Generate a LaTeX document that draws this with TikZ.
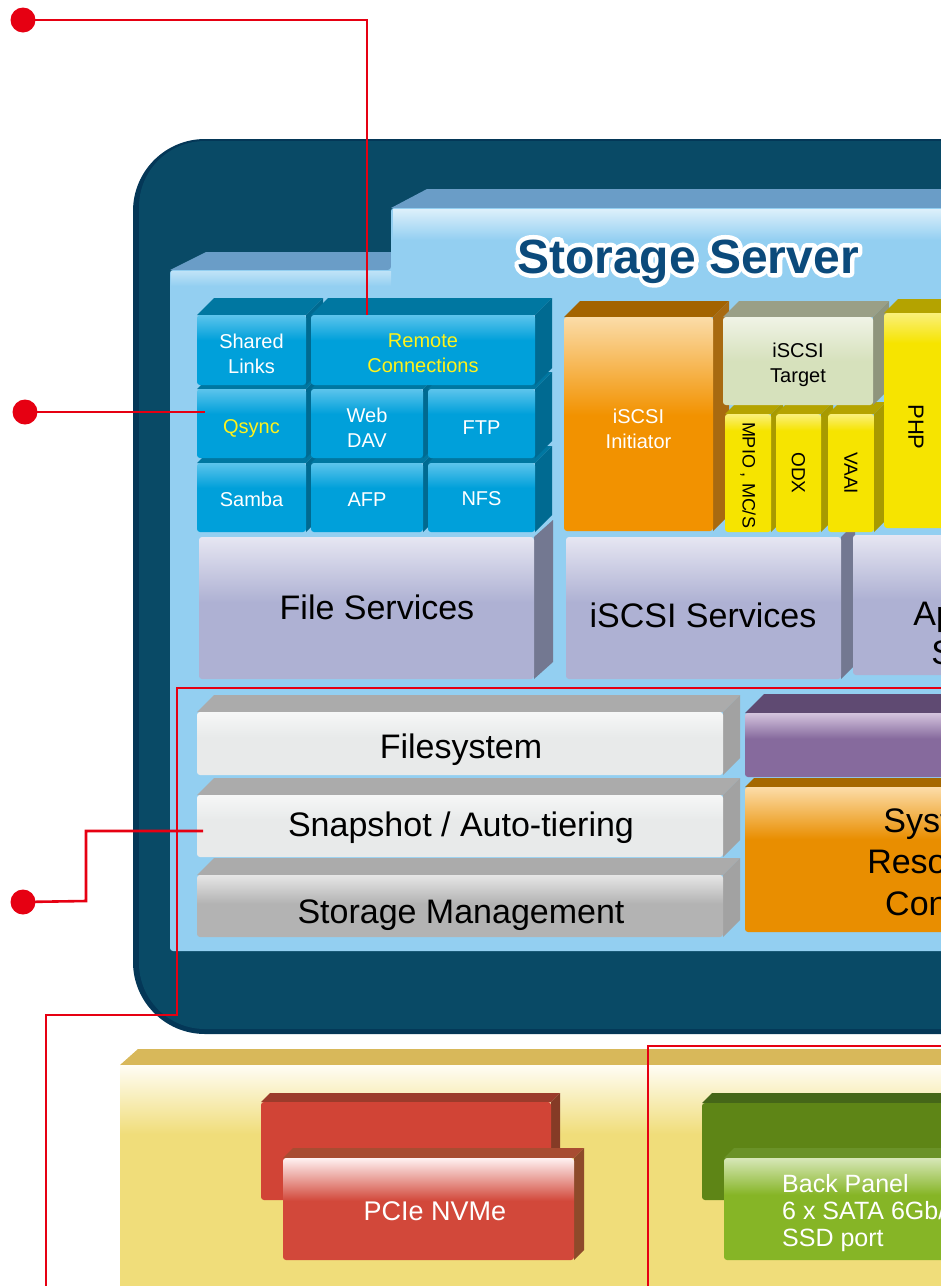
\documentclass[tikz,border=0pt]{standalone}
\usepackage{fontspec}
\setmainfont{Liberation Sans}
\usetikzlibrary{calc}
\definecolor{navy}{HTML}{094A66}
\definecolor{navyD}{HTML}{043757}
\definecolor{panelF}{HTML}{93CFF1}
\definecolor{panelT}{HTML}{6A9DC7}
\definecolor{panelH}{HTML}{DDF0FB}
\definecolor{titleC}{HTML}{0B4A7B}
\definecolor{blueA}{HTML}{5CC4EC}
\definecolor{blueB}{HTML}{00A0DA}
\definecolor{blueT}{HTML}{0077A1}
\definecolor{blueS}{HTML}{006A91}
\definecolor{qyel}{HTML}{FFF21A}
\definecolor{lavA}{HTML}{E6E6F2}
\definecolor{lavB}{HTML}{AEB1D3}
\definecolor{lavS}{HTML}{737891}
\definecolor{orA}{HTML}{FBDCA8}
\definecolor{orB}{HTML}{F29200}
\definecolor{orT}{HTML}{A36300}
\definecolor{orS}{HTML}{A86A10}
\definecolor{tgA}{HTML}{F0F3E6}
\definecolor{tgB}{HTML}{D6E1BC}
\definecolor{tgT}{HTML}{9A9F86}
\definecolor{tgS}{HTML}{8F957C}
\definecolor{ylA}{HTML}{FAF07A}
\definecolor{ylB}{HTML}{F6E400}
\definecolor{ylT}{HTML}{B4A300}
\definecolor{ylS}{HTML}{A89A00}
\definecolor{puA}{HTML}{D4C4DE}
\definecolor{puB}{HTML}{866A9D}
\definecolor{puT}{HTML}{5F4A72}
\definecolor{soA}{HTML}{FCDDA9}
\definecolor{soB}{HTML}{E98E00}
\definecolor{soT}{HTML}{A56800}
\definecolor{grA}{HTML}{F6F7F7}
\definecolor{grB}{HTML}{E8EAEA}
\definecolor{gdA}{HTML}{E6E6E6}
\definecolor{gdB}{HTML}{B3B3B3}
\definecolor{grT}{HTML}{ABABAB}
\definecolor{grS}{HTML}{A2A2A2}
\definecolor{byA}{HTML}{FFFDF5}
\definecolor{byB}{HTML}{F0DD7A}
\definecolor{byT}{HTML}{D8B85A}
\definecolor{rbF}{HTML}{D14436}
\definecolor{rbT}{HTML}{9B3B2B}
\definecolor{rbS}{HTML}{853B26}
\definecolor{rfA}{HTML}{FFF2F2}
\definecolor{rfB}{HTML}{D2483A}
\definecolor{rfT}{HTML}{A84C32}
\definecolor{rfS}{HTML}{8E4A2A}
\definecolor{gbF}{HTML}{5E8516}
\definecolor{gbT}{HTML}{456618}
\definecolor{gfA}{HTML}{D7E7B8}
\definecolor{gfB}{HTML}{86B526}
\definecolor{gfT}{HTML}{6A9228}
\definecolor{callout}{HTML}{E60012}
\newcommand\mkshade[4]{\pgfdeclareverticalshading{#1}{100bp}{color(0bp)=(#3); color(#4)=(#3); color(75bp)=(#2); color(100bp)=(#2)}}
\mkshade{shBlue}{blueA}{blueB}{57bp}
\mkshade{shLav}{lavA}{lavB}{52bp}
\mkshade{shOr}{orA}{orB}{52bp}
\mkshade{shTg}{tgA}{tgB}{50bp}
\mkshade{shYl}{ylA}{ylB}{68bp}
\mkshade{shPu}{puA}{puB}{55bp}
\mkshade{shSo}{soA}{soB}{57bp}
\mkshade{shGr}{grA}{grB}{55bp}
\mkshade{shGd}{gdA}{gdB}{52bp}
\mkshade{shBy}{byA}{byB}{60bp}
\mkshade{shRf}{rfA}{rfB}{54bp}
\mkshade{shGf}{gfA}{gfB}{57bp}
% cube faces: x1,y1,x2,y2,depth,topcolour,sidecolour
\newcommand\cubefaces[7]{%
  \fill[#6] (#1,#2) -- ++(#5,-#5) -- ({#3+#5},{#2-#5}) -- (#3,#2) -- cycle;
  \fill[#7] (#3,#2) -- ++(#5,-#5) -- ({#3+#5},{#4-#5}) -- (#3,#4) -- cycle;}
% front face node + its text: name,x1,y1,x2,y2,facestyle,textstyle,text,text offset down
\newcommand\blockf[9]{%
  \node[#6, minimum width={(#4)-(#2)}, minimum height={(#5)-(#3)}] (#1) at ({((#2)+(#4))/2},{((#3)+(#5))/2}) {};
  \node[#7] (#1T) at ($(#1.center)+(0,#9)$) {#8};}
\begin{document}
\begin{tikzpicture}[x=1pt,y=-1pt,
  face/.style={rectangle, rounded corners=3pt, inner sep=0pt, outer sep=0pt, shade},
  lbl/.style={inner sep=0pt, align=center},
  smalltxt/.style={lbl, text=white, font=\fontsize{20}{24.5}\selectfont},
  yeltxt/.style={smalltxt, text=qyel},
  blacktxt/.style={smalltxt, text=black},
  bigtxt/.style={inner sep=0pt, anchor=base, font=\fontsize{34}{40}\selectfont},
  bluef/.style={face, shading=shBlue},
  lavf/.style={face, shading=shLav},
  orf/.style={face, shading=shOr},
  tgf/.style={face, shading=shTg},
  ylf/.style={face, shading=shYl},
  puf/.style={face, shading=shPu},
  sof/.style={face, shading=shSo},
  grf/.style={face, shading=shGr},
  gdf/.style={face, shading=shGd},
  byf/.style={face, shading=shBy, rounded corners=1pt},
  rbf/.style={face, fill=rbF, shade=false},
  rff/.style={face, shading=shRf},
  gbf/.style={face, fill=gbF, shade=false},
  gff/.style={face, shading=shGf},
  titletxt/.style={inner sep=0pt, anchor=base, font=\bfseries\fontsize{48}{50}\selectfont},
  vtext/.style={rotate=-90, inner sep=0pt, text=black, font=\fontsize{19}{22}\selectfont},
  dot/.style={circle, fill=callout, minimum size=25pt, inner sep=0pt},
  cline/.style={draw=callout, line width=2.6pt}]
\useasboundingbox (0,0) rectangle (941,1286);
\clip (0,0) rectangle (941,1286);
% navy housing
\fill[navyD, rounded corners=72pt] (133,139) rectangle (1100,1034);
\fill[navy, rounded corners=66pt] (139,141) rectangle (1100,1029);
% light blue panel
\fill[panelT] (170,270) -- (206,252) -- (391,252) -- (391,270) -- cycle;
\fill[panelT] (391,208) -- (427,189) -- (1000,189) -- (1000,208) -- cycle;
\fill[panelF, rounded corners=3pt] (170,270) -- (391,270) -- (391,208) -- (1000,208) -- (1000,951) -- (170,951) -- cycle;
\shade[top color=panelH, bottom color=panelF] (393,209) rectangle (1000,240);
\shade[top color=panelH!60!panelF, bottom color=panelF] (171,271) rectangle (391,286);
% title: white outline (stroked text) under the blue text
\node[titletxt, text=white] (titleO) at (688,273) {\special{pdf:literal direct 2 Tr 9 w 1 j}Storage Server\special{pdf:literal direct 0 Tr 1 w}};
\node[titletxt, text=titleC] (title) at (688,273) {Storage Server};
% service blocks
\fill[lavS] (534,537) -- (553,520) -- (553,662) -- (534,679) -- cycle;
\blockf{fs}{199}{537}{534}{679}{lavf}{lbl}{}{0}
\node[bigtxt] (fsT) at (377,619) {File Services};
\fill[lavS] (841,537) -- (855,523) -- (855,665) -- (841,679) -- cycle;
\blockf{iss}{566}{537}{841}{679}{lavf}{lbl}{}{0}
\node[bigtxt] (issT) at (703,627) {iSCSI Services};
\blockf{aps}{853}{535}{1140}{675}{lavf}{lbl, font=\fontsize{34}{39}\selectfont}{Application\\Services}{28}
% blue protocol blocks (bottom row first)
\cubefaces{197}{463}{306}{532}{17}{blueT}{blueS}
\blockf{samba}{197}{463}{306}{532}{bluef}{smalltxt}{Samba}{2}
\cubefaces{311}{463}{423}{532}{17}{blueT}{blueS}
\blockf{afp}{311}{463}{423}{532}{bluef}{smalltxt}{AFP}{2}
\cubefaces{428}{463}{535}{532}{17}{blueT}{blueS}
\blockf{nfs}{428}{463}{535}{532}{bluef}{smalltxt}{NFS}{1.5}
\cubefaces{197}{389}{306}{458}{17}{blueT}{blueS}
\blockf{qsync}{197}{389}{306}{458}{bluef}{yeltxt}{Qsync}{5.5}
\cubefaces{311}{389}{423}{458}{17}{blueT}{blueS}
\blockf{webdav}{311}{389}{423}{458}{bluef}{smalltxt}{Web\\DAV}{4}
\cubefaces{428}{389}{535}{458}{17}{blueT}{blueS}
\blockf{ftp}{428}{389}{535}{458}{bluef}{smalltxt}{FTP}{4}
\cubefaces{197}{315}{306}{385}{17}{blueT}{blueS}
\blockf{shared}{197}{315}{306}{385}{bluef}{smalltxt}{Shared\\Links}{4}
\cubefaces{311}{315}{535}{385}{17}{blueT}{blueS}
\blockf{remote}{311}{315}{535}{385}{bluef}{yeltxt}{Remote\\Connections}{3}
% iSCSI blocks
\cubefaces{564}{317}{713}{531}{16}{orT}{orS}
\blockf{init}{564}{317}{713}{531}{orf}{smalltxt}{iSCSI\\Initiator}{5}
\cubefaces{725}{414}{771}{532}{12}{ylT}{ylS}
\blockf{mpio}{725}{414}{771}{532}{ylf}{vtext, font=\fontsize{18}{20}\selectfont}{MPIO , MC/S}{2}
\cubefaces{776}{414}{821}{532}{12}{ylT}{ylS}
\blockf{odx}{776}{414}{821}{532}{ylf}{vtext}{ODX}{0}
\cubefaces{828}{414}{874}{532}{12}{ylT}{ylS}
\blockf{vaai}{828}{414}{874}{532}{ylf}{vtext}{VAAI}{0}
\cubefaces{723}{317}{873}{405}{16}{tgT}{tgS}
\blockf{target}{723}{317}{873}{405}{tgf}{blacktxt}{iSCSI\\Target}{4}
\cubefaces{884}{313}{1000}{528}{14}{ylT}{ylS}
\blockf{php}{884}{313}{1000}{528}{ylf}{lbl}{}{0}
\node[vtext, font=\fontsize{22}{24}\selectfont] (phpT) at (916,427) {PHP};
% storage layers
\cubefaces{197}{875}{723}{937}{17}{grT}{grS}
\blockf{stm}{197}{875}{723}{937}{gdf}{lbl}{}{0}
\node[bigtxt] (stmT) at (461,923) {Storage Management};
\cubefaces{197}{795}{723}{857}{17}{grT}{grS}
\blockf{snap}{197}{795}{723}{857}{grf}{lbl}{}{0}
\node[bigtxt] (snapT) at (461,836) {Snapshot / Auto-tiering};
\cubefaces{197}{712}{723}{775}{17}{grT}{grS}
\blockf{fsys}{197}{712}{723}{775}{grf}{lbl}{}{0}
\node[bigtxt] (fsysT) at (461,758) {Filesystem};
\cubefaces{745}{713}{1000}{777}{19}{puT}{puT}
\blockf{purp}{745}{713}{1000}{777}{puf}{lbl}{}{0}
\cubefaces{745}{787}{1000}{932}{9}{soT}{soT}
\blockf{sysr}{745}{787}{1000}{932}{sof}{lbl}{}{0}
\node[lbl, font=\fontsize{34}{41.5}\selectfont] (sysrT) at (940,862) {System\\Resource\\Control};
% hardware base
\fill[byT] (120,1065) -- (138,1049) -- (1000,1049) -- (1000,1065) -- cycle;
\blockf{base}{120}{1065}{1000}{1295}{byf}{lbl}{}{0}
\cubefaces{261}{1102}{551}{1200}{9}{rbT}{rbS}
\blockf{redback}{261}{1102}{551}{1200}{rbf}{lbl}{}{0}
\cubefaces{283}{1158}{574}{1260}{10}{rfT}{rfS}
\blockf{nvme}{283}{1158}{574}{1260}{rff}{lbl}{}{0}
\node[lbl, text=white, font=\fontsize{27}{30}\selectfont] (nvmeT) at (435,1211) {PCIe NVMe};
\cubefaces{702}{1103}{1000}{1200}{10}{gbT}{gbT}
\blockf{greenback}{702}{1103}{1000}{1200}{gbf}{lbl}{}{0}
\cubefaces{724}{1158}{1000}{1260}{10}{gfT}{gfT}
\blockf{sata}{724}{1158}{1000}{1260}{gff}{lbl}{}{0}
\node[text=white, inner sep=0pt, anchor=west, align=left, font=\fontsize{25}{27}\selectfont] (sataT) at (782,1213) {Back Panel\\6 x SATA 6Gb/s\\SSD port};
% callouts
\node[dot] (d1) at (23,20) {};
\node[dot] (d2) at (25,412) {};
\node[dot] (d3) at (23,902) {};
\coordinate (rcIn) at (367,315);
\coordinate (qsIn) at (205,412);
\coordinate (k3) at (86,901);
\coordinate (snIn) at (203,831);
\draw[cline] (d1.center) -| (rcIn);
\draw[cline] (d2.center) -- (qsIn);
\draw[cline] (d3.center) -- (k3) |- (snIn);
\coordinate (b4) at (950,688);
\coordinate (b4a) at (177,688);
\coordinate (b4b) at (177,1015);
\coordinate (b4e) at (46,1295);
\draw[cline] (b4) -- (b4a) -- (b4b) -| (b4e);
\coordinate (b5) at (950,1046);
\coordinate (b5e) at (648,1295);
\draw[cline] (b5) -| (b5e);
\end{tikzpicture}
\end{document}
